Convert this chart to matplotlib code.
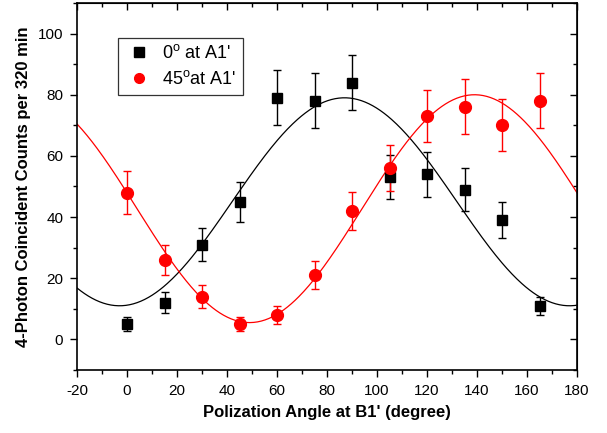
import numpy as np
import matplotlib
matplotlib.use("Agg")
import matplotlib.pyplot as plt
from matplotlib.lines import Line2D

plt.rcParams['font.family'] = ['Liberation Sans', 'DejaVu Sans']
plt.rcParams['mathtext.fontset'] = 'custom'
plt.rcParams['mathtext.rm'] = 'Liberation Sans'
plt.rcParams['axes.unicode_minus'] = False

angles = [0, 15, 30, 45, 60, 75, 90, 105, 120, 135, 150, 165]

counts_0 = [5, 12, 31, 45, 79, 78, 84, 53, 54, 49, 39, 11]
err_0 = [2.2, 3.5, 5.5, 6.5, 9, 9, 9, 7.2, 7.3, 7, 6, 3]

counts_45 = [48, 26, 14, 5, 8, 21, 42, 56, 73, 76, 70, 78]
err_45 = [7, 5, 3.7, 2.2, 3, 4.5, 6.2, 7.5, 8.5, 9, 8.5, 9]

# cosine fit parameters (offset, amplitude, phase in degrees)
fit_0 = (45.0, 34.0, 87.0)
fit_45 = (42.75, 37.25, 139.0)

fig = plt.figure(figsize=(6.07, 4.33), dpi=100)
ax = fig.add_axes([0.1269, 0.1455, 0.8237, 0.8476])

xx = np.linspace(-20, 180, 400)
for (a, b, ph), col in [(fit_0, 'black'), (fit_45, 'red')]:
    ax.plot(xx, a + b * np.cos(np.radians(2 * (xx - ph))), color=col, lw=0.9)

ax.errorbar(angles, counts_0, yerr=err_0, fmt='s', color='black', ms=7,
            ecolor='black', elinewidth=1, capsize=3, capthick=1)
ax.errorbar(angles, counts_45, yerr=err_45, fmt='o', color='red', ms=8.5,
            ecolor='red', elinewidth=1, capsize=3, capthick=1)

ax.set_xlim(-20, 180)
ax.set_ylim(-10, 110)
ax.set_xticks(np.arange(-20, 181, 20))
ax.set_xticks(np.arange(-20, 181, 10), minor=True)
ax.set_yticks(np.arange(0, 101, 20))
ax.set_yticks(np.arange(-10, 111, 10), minor=True)

ax.tick_params(which='both', direction='out', labelsize=11, width=1, pad=5)
ax.tick_params(which='major', length=5)
ax.tick_params(which='minor', length=3)
for sp in ax.spines.values():
    sp.set_linewidth(1.2)

# mirrored ticks on top and right pointing inward
top = ax.secondary_xaxis('top')
top.set_xticks(np.arange(-20, 181, 20))
top.set_xticks(np.arange(-20, 181, 10), minor=True)
top.tick_params(which='both', direction='in', labeltop=False, width=1)
top.tick_params(which='major', length=5)
top.tick_params(which='minor', length=3)
right = ax.secondary_yaxis('right')
right.set_yticks(np.arange(0, 101, 20))
right.set_yticks(np.arange(-10, 111, 10), minor=True)
right.tick_params(which='both', direction='in', labelright=False, width=1)
right.tick_params(which='major', length=5)
right.tick_params(which='minor', length=3)

ax.set_xlabel("Polization Angle at B1' (degree)", fontsize=12, fontweight='bold', labelpad=5)
ax.set_ylabel("4-Photon Coincident Counts per 320 min", fontsize=12, fontweight='bold', labelpad=5)

handles = [Line2D([], [], ls='none', marker='s', color='black', ms=6.5),
           Line2D([], [], ls='none', marker='o', color='red', ms=7)]
labels = [r"0$^{\rm o}$ at A1'", r"45$^{\rm o}$at A1'"]
leg = ax.legend(handles, labels, loc='upper left', bbox_to_anchor=(0.082, 0.905),
                borderaxespad=0, fontsize=13, frameon=True, fancybox=False,
                edgecolor='black', handlelength=1.6, handletextpad=0.5,
                borderpad=0.35, labelspacing=0.45)
leg.get_frame().set_linewidth(0.9)

fig.savefig('out.png', dpi=100)
